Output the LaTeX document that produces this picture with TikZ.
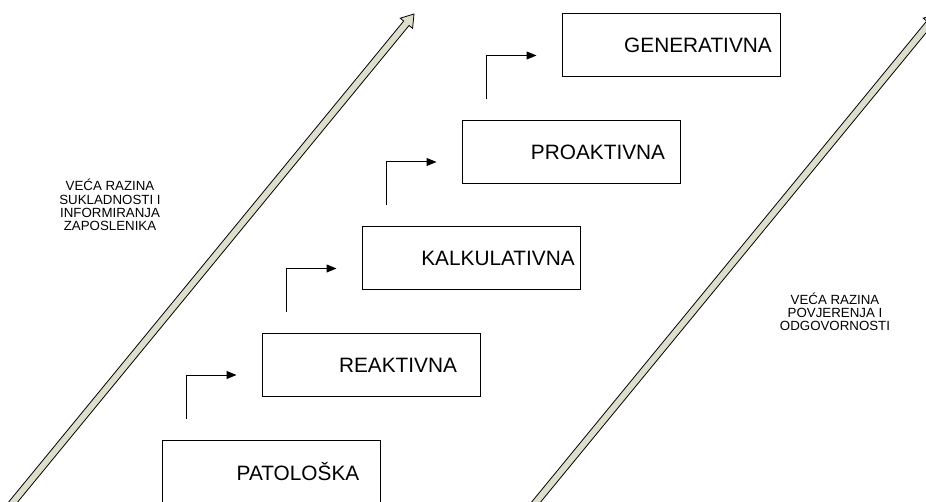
\documentclass[tikz,border=0pt]{standalone}
\usepackage{fontspec}
\setmainfont{Liberation Sans}
\usetikzlibrary{arrows.meta}
\definecolor{arrowfill}{RGB}{222,222,205}
\newcommand{\bigarrow}[1]{
\begin{scope}[shift={#1}, rotate=50.6]
	\filldraw[draw=black, fill=arrowfill, line width=0.8pt] (0,0) -- (-12,8) -- (-12,3.5) -- (-700,3.5) -- (-700,-3.5) -- (-12,-3.5) -- (-12,-8) -- cycle;
\end{scope}
}
\tikzset{
	stage/.style={draw, line width=1pt, minimum width=218pt, minimum height=63pt, inner sep=0pt},
	stagetext/.style={font=\fontsize{20.8}{24}\selectfont, xshift=27pt},
	note/.style={align=center, font=\fontsize{13.3}{13.2}\selectfont},
	climb/.style={line width=1pt, -{Triangle[length=10pt,width=8pt]}}
}
\begin{document}
\begin{tikzpicture}[x=1pt, y=1pt]

	\useasboundingbox (0,0) rectangle (926,501);
	\clip (0,0) rectangle (926,501);

	\bigarrow{(414,487)}
	\bigarrow{(937,487)}

	\foreach \name [count=\i from 0] in {PATOLOŠKA, REAKTIVNA, KALKULATIVNA, PROAKTIVNA, GENERATIVNA}
		\node[stage, label={[stagetext]center:\name}] (lvl\i) at (271+\i*100, 29.5+\i*106.5) {};
		; %end for \name

	\foreach \i [evaluate=\i as \j using int(\i+1)] in {0, ..., 3}
		\draw[climb] ([shift={(25,21)}]lvl\i.north west) |- ([shift={(-25,-10)}]lvl\j.west);
		; %end for \i

	\node[note] (leftnote) at (110,296) {VEĆA RAZINA\\SUKLADNOSTI I\\INFORMIRANJA\\ZAPOSLENIKA};
	\node[note] (rightnote) at (835,189) {VEĆA RAZINA\\POVJERENJA I\\ODGOVORNOSTI};

\end{tikzpicture}
\end{document}
